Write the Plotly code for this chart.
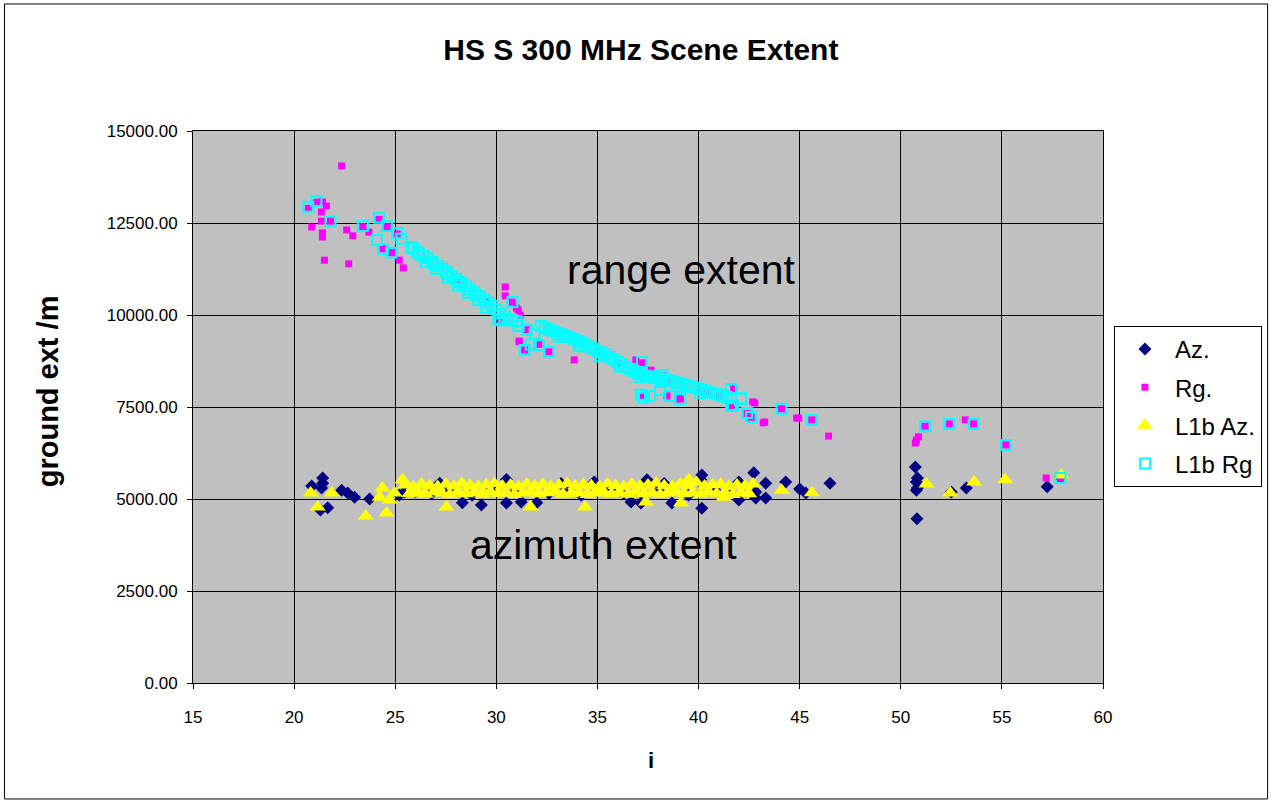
"""
HS S 300 MHz scene extent scatter (Excel-style).
"""

import plotly.graph_objects as go

# Az. (navy diamonds)
az_x = [20.87, 21.41, 21.41, 21.36, 21.66, 21.3, 22.35, 22.65, 22.99, 23.73, 25.2, 25.46,
        28.32, 29.26, 30.5, 31.23, 30.5, 32.0, 34.84, 36.66, 37.15, 37.45, 38.68, 40.16,
        40.16, 40.11, 41.99, 41.99, 42.73, 42.83, 42.83, 43.32, 43.32, 44.31, 45.0, 45.3,
        46.5, 50.72, 50.82, 50.77, 50.82, 50.77, 50.8, 52.5, 53.24, 57.24, 57.88,
        26.0, 26.8, 27.6, 28.8, 29.8, 30.9, 32.6, 33.5, 34.2, 35.6, 36.3, 38.0, 39.5,
        40.8, 41.5, 38.3, 33.2, 27.2]
az_y = [5350, 5570, 5430, 5300, 4760, 4700, 5240, 5160, 5050, 5000, 5110, 5190,
        4900, 4840, 4890, 4920, 5530, 4900, 5460, 4920, 4890, 5520, 4890, 4750,
        5650, 5520, 5460, 4970, 5710, 5190, 5030, 5430, 5030, 5460, 5270, 5160,
        5430, 5870, 5570, 5460, 5300, 5240, 4460, 5190, 5300, 5330, 5600,
        5200, 5150, 5250, 5100, 5300, 5200, 5150, 5300, 5100, 5250, 5150, 5250, 5100,
        5250, 5300, 5420, 5420, 5430]

# Rg. (magenta squares)
rg_x = [22.35, 21.6, 21.35, 21.35, 20.87, 21.4, 21.4, 21.5, 22.6, 22.9, 22.7, 23.7,
        25.2, 25.4, 24.9, 21.4, 21.2, 30.44, 30.44, 31.08, 31.18, 30.99, 30.79, 31.13,
        33.85, 31.13, 36.9, 37.65, 38.44, 38.98, 41.74, 42.68, 43.2, 44.85, 42.78, 43.27,
        44.95, 46.43, 50.77, 50.72, 50.87, 53.19, 57.19,
        20.7, 21.1, 21.8, 23.4, 24.2, 24.6, 25.1, 24.4, 24.8, 30.2, 31.5, 31.4, 32.1,
        32.6, 37.2, 37.2, 38.2, 39.1, 40.4, 41.6, 42.4, 42.6, 44.1, 45.6, 51.2, 52.4,
        53.6, 55.2, 57.9, 26.5, 28.0, 29.5, 33.0, 35.0, 36.0, 38.5, 40.0, 41.0]
rg_y = [14050, 12960, 12800, 12550, 12390, 12230, 12120, 11490, 12310, 12150, 11390, 12250,
        11490, 11280, 11690, 13070, 13070, 10760, 10520, 10140, 10000, 10190, 10350, 9270,
        8780, 9290, 8780, 8500, 7800, 7720, 7990, 7640, 7070, 7200, 7610, 7090,
        7200, 6710, 6600, 6520, 6690, 7150, 5570,
        12900, 13050, 12550, 12400, 12600, 12400, 12200, 11800, 11700, 9850, 9600, 9050, 9200,
        9000, 8700, 7780, 8350, 7720, 7880, 7540, 7320, 7220, 7450, 7150, 6980, 7040,
        7040, 6470, 5560, 11500, 10950, 10350, 9500, 9000, 8700, 8200, 7950, 7800]

# L1b Az. (yellow triangles)
l1b_az_x = [20.82, 21.17, 21.86, 23.54, 24.57, 24.37, 24.72, 24.97, 25.36, 24.23, 26.05,
            27.53, 31.7, 34.39, 37.4, 39.13, 41.25, 39.52, 44.11, 45.6, 51.27, 52.45,
            53.63, 55.16, 57.93,
            25.5, 25.9, 26.3, 26.7, 27.1, 27.5, 27.9, 28.3, 28.7, 29.1, 29.5, 29.9,
            30.3, 30.7, 31.1, 31.5, 31.9, 32.3, 32.7, 33.1, 33.5, 33.9, 34.3, 34.7,
            35.1, 35.5, 35.9, 36.3, 36.7, 37.1, 37.5, 37.9, 38.3, 38.7, 39.1, 39.5,
            39.9, 40.3, 40.7, 41.1, 41.5, 41.9, 42.3, 42.7,
            25.7, 26.1, 26.5, 26.9, 27.3, 27.7, 28.1, 28.5, 28.9, 29.3, 29.7, 30.1,
            30.5, 30.9, 31.3, 31.7, 32.1, 32.5, 32.9, 33.3, 33.7, 34.1, 34.5, 34.9,
            35.3, 35.7, 36.1, 36.5, 36.9, 37.3, 37.7, 38.1, 38.5, 38.9, 39.3, 39.7,
            40.1, 40.5, 40.9, 41.3, 41.7, 42.1, 42.5]
l1b_az_y = [5160, 4780, 5160, 4540, 4620, 5300, 4970, 5160, 5520, 5050, 5240,
            4780, 4780, 4780, 4920, 4890, 5050, 5520, 5240, 5170, 5410, 5160,
            5460, 5520, 5650,
            5380, 5330, 5410, 5360, 5340, 5400, 5350, 5430, 5370, 5340, 5390, 5420,
            5350, 5380, 5330, 5410, 5360, 5400, 5340, 5380, 5420, 5350, 5390, 5360,
            5340, 5410, 5370, 5330, 5400, 5350, 5380, 5430, 5360, 5340, 5410, 5370,
            5450, 5350, 5390, 5400, 5340, 5380, 5360, 5410,
            5150, 5180, 5130, 5200, 5160, 5120, 5190, 5140, 5170, 5130, 5200, 5150,
            5180, 5120, 5160, 5190, 5140, 5170, 5200, 5130, 5150, 5180, 5120, 5160,
            5190, 5140, 5170, 5130, 5200, 5150, 5180, 5120, 5160, 5190, 5140, 5170,
            5130, 5200, 5150, 5180, 5120, 5160, 5140]

# L1b Rg (cyan open squares)
l1b_rg_x = [20.7, 21.1, 21.8, 23.4, 24.2, 24.6, 25.1, 25.3, 24.1, 24.4, 24.8, 25.8,
            25.9, 26.1, 26.2, 26.4, 26.6, 26.8, 26.9, 27.1, 27.3, 27.5, 27.6, 27.8,
            28.0, 28.2, 28.3, 28.5, 28.7, 28.9, 29.0, 29.2, 29.4, 29.6, 29.8, 30.0,
            30.2, 30.4, 30.6, 30.8, 31.0,
            26.5, 27.0, 27.6, 28.1, 28.6, 29.1, 29.5, 30.1,
            30.2, 30.8, 31.5, 31.9, 31.1, 31.4, 31.7, 32.1, 32.6,
            32.2, 32.4, 32.6, 32.8, 33.0, 33.2, 33.4, 33.6, 33.8, 34.0, 34.2, 34.4,
            34.6, 34.8, 35.0, 35.2, 35.4, 35.6, 35.8, 36.0, 36.2, 36.4, 36.6, 36.8,
            37.0, 37.2, 37.4, 37.6, 37.8, 38.0, 38.2, 38.4, 38.6, 38.8, 39.0, 39.2,
            39.4, 39.6, 39.8, 40.0, 40.2, 40.4, 40.6, 40.8, 41.0, 41.2, 41.4, 41.6,
            33.1, 34.1, 35.1, 36.1, 37.1, 38.1, 39.1, 40.1,
            37.2, 37.15, 37.3, 38.2, 37.6, 38.1, 38.6, 39.1, 40.4, 41.6, 41.6, 42.1,
            42.1, 41.7, 42.4, 42.6,
            44.1, 45.6, 51.2, 52.4, 53.6, 55.2, 57.9]
l1b_rg_y = [12940, 13100, 12550, 12420, 12640, 12420, 12230, 12070, 12040, 11790, 11690, 11850,
            11800, 11720, 11650, 11600, 11540, 11450, 11400, 11330, 11260, 11180, 11120, 11060,
            10980, 10900, 10850, 10780, 10700, 10620, 10560, 10500, 10420, 10330, 10250, 10150,
            10050, 9950, 9880, 9850, 9830,
            11450, 11250, 11020, 10800, 10600, 10400, 10200, 9900,
            9860, 10350, 9590, 9500, 9700, 9050, 9200, 9180, 9000,
            9700, 9650, 9600, 9560, 9520, 9480, 9430, 9400, 9350, 9300, 9250, 9200,
            9140, 9080, 9020, 8980, 8930, 8860, 8790, 8720, 8660, 8590, 8530, 8470,
            8420, 8380, 8350, 8330, 8300, 8280, 8260, 8240, 8210, 8180, 8150, 8120,
            8090, 8060, 8030, 8000, 7960, 7920, 7890, 7860, 7830, 7800, 7770, 7740,
            9400, 9150, 8880, 8600, 8300, 8180, 8050, 7880,
            8720, 7830, 7750, 8370, 7800, 7960, 7800, 7720, 7880, 7990, 7530, 7720,
            7740, 7550, 7340, 7230,
            7450, 7150, 6980, 7040, 7040, 6470, 5570]

FONT = "Arial, Liberation Sans, sans-serif"

fig = go.Figure()
fig.add_trace(go.Scatter(x=az_x, y=az_y, mode="markers", name="Az.", legendgroup="a",
                         marker=dict(symbol="diamond", color="#000080", size=10)))
fig.add_trace(go.Scatter(x=rg_x, y=rg_y, mode="markers", name="Rg.", legendgroup="b",
                         marker=dict(symbol="square", color="#FF00FF", size=7)))
fig.add_trace(go.Scatter(x=l1b_az_x, y=l1b_az_y, mode="markers", name="L1b Az.", legendgroup="c",
                         marker=dict(symbol="triangle-up", color="#FFFF00", size=14)))
fig.add_trace(go.Scatter(x=l1b_rg_x, y=l1b_rg_y, mode="markers", name="L1b Rg", legendgroup="d",
                         marker=dict(symbol="square-open", color="#00FFFF", size=10,
                                     line=dict(width=2, color="#00FFFF"))))

fig.update_layout(
    width=1274, height=801,
    margin=dict(l=193, r=169, t=131, b=118),
    paper_bgcolor="white",
    plot_bgcolor="#C0C0C0",
    font=dict(family=FONT, color="black", size=17),
    title=dict(text="<b>HS S 300 MHz Scene Extent</b>", x=0.503, xanchor="center",
               y=0.9376, yanchor="middle", font=dict(size=30)),
    legend=dict(x=1.012, y=0.647, xanchor="left", yanchor="top",
                bordercolor="black", borderwidth=1, bgcolor="white",
                font=dict(size=24), tracegroupgap=4, itemwidth=50),
    showlegend=True,
)
fig.update_xaxes(range=[15, 60], dtick=5, tick0=15, showgrid=True, gridcolor="black", gridwidth=1,
                 showline=True, linecolor="black", mirror=True, zeroline=False,
                 ticks="outside", ticklen=5, tickcolor="black", ticklabelstandoff=14)
fig.update_yaxes(range=[0, 15000], dtick=2500, tickformat=".2f", showgrid=True,
                 gridcolor="black", gridwidth=1, showline=True, linecolor="black",
                 mirror=True, zeroline=False, ticks="outside", ticklen=5, tickcolor="black",
                 ticklabelstandoff=6)

# axis titles placed like the Excel original
fig.add_annotation(xref="paper", yref="paper", x=-0.159, y=0.529, xanchor="center",
                   yanchor="middle", text="<b>ground ext /m</b>", textangle=-90,
                   showarrow=False, font=dict(size=29))
fig.add_annotation(xref="paper", yref="paper", x=0.503, y=-0.1395, xanchor="center",
                   yanchor="middle", text="<b>i</b>", showarrow=False, font=dict(size=22))

fig.add_annotation(x=39.15, y=11220, text="range extent", showarrow=False,
                   font=dict(size=41, color="black"))
fig.add_annotation(x=35.28, y=3750, text="azimuth extent", showarrow=False,
                   font=dict(size=41, color="black"))

# outer chart border
fig.add_shape(type="rect", xref="paper", yref="paper",
              x0=-0.2072, x1=1.1809, y0=-0.2101, y1=1.2301,
              line=dict(color="black", width=1), fillcolor="rgba(0,0,0,0)")

# page without body margin so the figure sits at the window origin
fig.write_html("out.html", config={"displayModeBar": False},
               post_script="document.body.style.margin='0';")
